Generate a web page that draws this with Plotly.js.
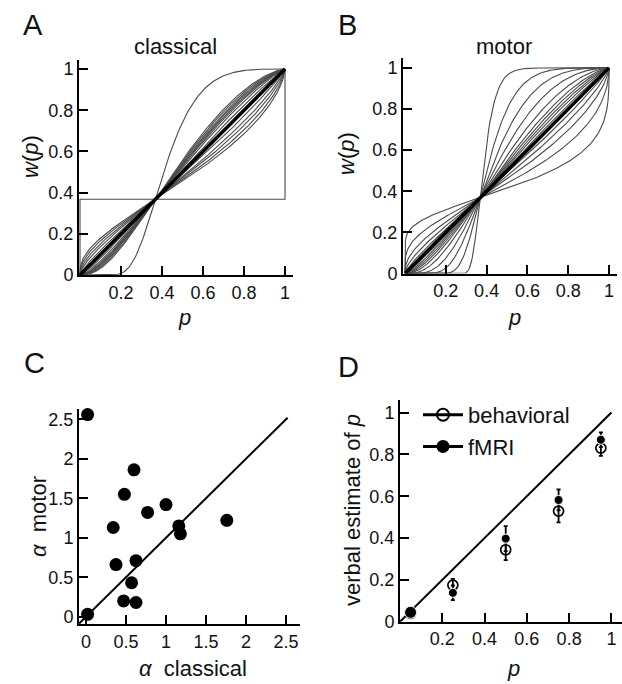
<!DOCTYPE html>
<html>
<head>
<meta charset="utf-8">
<script src="https://cdn.plot.ly/plotly-3.0.1.min.js"></script>
<style>html,body{margin:0;padding:0;background:#fff;}#chart{width:622px;height:684px;}</style>
</head>
<body>
<div id="chart"></div>
<script>
// ---------- DATA ----------
// Panel A: Prelec weighting-curve parameters read from the "classical" curves
const curveAlphaClassical = [0, 0.65, 0.7, 0.76, 0.82, 0.9, 1.1, 1.18, 1.24, 1.28, 1.32, 1.36, 1.42, 1.48, 3.3];
const curveAlphaMotor = [0.33, 0.52, 0.68, 0.8, 0.9, 1.08, 1.15, 1.22, 1.3, 1.4, 1.6, 2.0, 2.7, 4.1, 9.0];
// Identity (thick black) line in A and B
const identityP = [0, 1];

// Panel C: alpha classical vs alpha motor (one point per subject)
const alphaClassical = [0.02, 0.02, 0.60, 0.48, 0.34, 0.375, 0.625, 0.57, 0.47, 0.625, 0.77, 1.00, 1.16, 1.18, 1.76];
const alphaMotor     = [2.56, 0.03, 1.86, 1.55, 1.13, 0.66, 0.71, 0.43, 0.20, 0.18, 1.32, 1.42, 1.15, 1.05, 1.22];
const diagC = [-0.085, 2.52];

// Panel D: verbal estimate of p
const pTrue = [0.05, 0.25, 0.5, 0.75, 0.95];
const behavioralMean = [0.040, 0.175, 0.344, 0.529, 0.830];
const behavioralErr  = [0.010, 0.030, 0.050, 0.054, 0.037];
const fmriMean = [0.045, 0.138, 0.397, 0.582, 0.870];
const fmriErr  = [0.010, 0.035, 0.060, 0.050, 0.035];
const diagD = [0, 1];

// Tick labels
const tickP = [0.2, 0.4, 0.6, 0.8, 1];
const tickPText = ['0.2', '0.4', '0.6', '0.8', '1'];
const tickW = [0, 0.2, 0.4, 0.6, 0.8, 1];
const tickWText = ['0', '0.2', '0.4', '0.6', '0.8', '1'];
const tickAlpha = [0, 0.5, 1, 1.5, 2, 2.5];
const tickAlphaText = ['0', '0.5', '1', '1.5', '2', '2.5'];

// ---------- HELPERS ----------
function pGrid() {
  const g = [0, 1e-9, 1e-7, 1e-5, 1e-4, 1e-3, 0.002, 0.004];
  for (let i = 1; i < 200; i++) g.push(i / 200);
  g.push(0.996, 0.998, 0.999, 1 - 1e-4, 1 - 1e-5, 1 - 1e-7, 1 - 1e-9, 1);
  return g;
}
function prelec(p, a) {
  if (p <= 0) return 0;
  if (p >= 1) return 1;
  return Math.exp(-Math.pow(-Math.log(p), a));
}
const P = pGrid();
const FONT = 'Liberation Sans, Arial, sans-serif';
const W = 622, H = 684;
const px = x => x / W;
const py = y => 1 - y / H;

const traces = [];
function curves(alphas, xa, ya) {
  alphas.forEach(a => {
    traces.push({x: P, y: P.map(p => prelec(p, a)), xaxis: xa, yaxis: ya, mode: 'lines',
      line: {color: '#4a4a4a', width: 1.1}, showlegend: false, hoverinfo: 'skip'});
  });
  traces.push({x: identityP, y: identityP, xaxis: xa, yaxis: ya, mode: 'lines',
    line: {color: '#000', width: 3.5}, showlegend: false});
}
curves(curveAlphaClassical, 'x', 'y');
curves(curveAlphaMotor, 'x2', 'y2');

// Panel C
traces.push({x: diagC, y: diagC, xaxis: 'x3', yaxis: 'y3', mode: 'lines',
  line: {color: '#000', width: 2}, showlegend: false});
traces.push({x: alphaClassical, y: alphaMotor, xaxis: 'x3', yaxis: 'y3', mode: 'markers',
  marker: {color: '#000', size: 13, opacity: 1}, showlegend: false, cliponaxis: false});

// Panel D
traces.push({x: diagD, y: diagD, xaxis: 'x4', yaxis: 'y4', mode: 'lines',
  line: {color: '#000', width: 2}, showlegend: false});
traces.push({x: pTrue, y: behavioralMean, xaxis: 'x4', yaxis: 'y4', mode: 'markers',
  error_y: {type: 'data', array: behavioralErr, visible: true, color: '#000', thickness: 1.8, width: 2},
  marker: {symbol: 'circle-open', color: '#000', size: 10, opacity: 1, line: {width: 1.7, color: '#000'}},
  showlegend: false});
traces.push({x: pTrue, y: fmriMean, xaxis: 'x4', yaxis: 'y4', mode: 'markers',
  error_y: {type: 'data', array: fmriErr, visible: true, color: '#000', thickness: 1.8, width: 2},
  marker: {symbol: 'circle', color: '#000', size: [12, 9, 9, 9, 9], opacity: 1},
  showlegend: false});
// legend entries
traces.push({x: [null], y: [null], xaxis: 'x4', yaxis: 'y4', mode: 'lines+markers', name: 'behavioral',
  line: {color: '#000', width: 3}, marker: {symbol: 'circle-open', color: '#000', size: 12, line: {color: '#000', width: 2}}});
traces.push({x: [null], y: [null], xaxis: 'x4', yaxis: 'y4', mode: 'lines+markers', name: 'fMRI',
  line: {color: '#000', width: 3}, marker: {symbol: 'circle', color: '#000', size: 13}});

function axis(extra) {
  return Object.assign({
    showline: true, linecolor: '#000', linewidth: 2, ticks: 'inside', ticklen: 9, tickwidth: 2,
    tickcolor: '#000', showgrid: false, zeroline: false, tickmode: 'array',
    tickfont: {family: FONT, size: 18, color: '#111'}, fixedrange: true
  }, extra);
}

const layout = {
  width: W, height: H, margin: {l: 0, r: 0, t: 0, b: 0},
  paper_bgcolor: '#fff', plot_bgcolor: 'rgba(0,0,0,0)',
  font: {family: FONT, color: '#111'},
  xaxis:  axis({domain: [px(79), px(293)], range: [-0.005, 1.039], tickvals: tickP, ticktext: tickPText, anchor: 'y'}),
  yaxis:  axis({domain: [py(275), py(60)], range: [0, 1.044], tickvals: tickW, ticktext: tickWText, anchor: 'x'}),
  xaxis2: axis({domain: [px(403), px(617)], range: [-0.01, 1.039], tickvals: tickP, ticktext: tickPText, anchor: 'y2'}),
  yaxis2: axis({domain: [py(273.5), py(58)], range: [0, 1.048], tickvals: tickW, ticktext: tickWText, anchor: 'x2'}),
  xaxis3: axis({domain: [px(79), px(300)], range: [-0.0875, 2.675], tickvals: tickAlpha, ticktext: tickAlphaText, anchor: 'y3'}),
  yaxis3: axis({domain: [py(624), py(409)], range: [-0.092, 2.63], tickvals: tickAlpha, ticktext: tickAlphaText, anchor: 'x3'}),
  xaxis4: axis({domain: [px(400), px(622)], range: [0, 1.05], tickvals: tickP, ticktext: tickPText, anchor: 'y4'}),
  yaxis4: axis({domain: [py(621.7), py(400)], range: [0, 1.06], tickvals: tickW, ticktext: tickWText, anchor: 'x4'}),
  legend: {x: px(418), y: py(394), xanchor: 'left', yanchor: 'top', bgcolor: 'rgba(0,0,0,0)',
    font: {family: FONT, size: 22, color: '#111'}, itemwidth: 40, tracegroupgap: 0},
  showlegend: true,
  annotations: []
};

function ann(text, x, y, size, angle) {
  layout.annotations.push({text: text, x: px(x), y: py(y), xref: 'paper', yref: 'paper',
    xanchor: 'center', yanchor: 'middle', showarrow: false, textangle: angle || 0,
    font: {family: FONT, size: size, color: '#111'}});
}
ann('A', 33, 25, 29);
ann('B', 347, 25, 29);
ann('C', 34, 363, 29);
ann('D', 348, 367, 29);
ann('classical', 175, 46, 22);
ann('motor', 504, 46, 22);
ann('<i>p</i>', 184, 317, 22);
ann('<i>p</i>', 514, 317, 22);
ann('<i>w</i>(<i>p</i>)', 31, 157, 22, -90);
ann('<i>w</i>(<i>p</i>)', 347, 154, 22, -90);
ann('<i>α</i>  motor', 38, 517, 22, -90);
ann('<i>α</i>  classical', 193, 668, 22);
ann('verbal estimate of <i>p</i>', 352, 510, 22, -90);
ann('<i>p</i>', 513, 668, 22);

Plotly.newPlot('chart', traces, layout, {staticPlot: true, displayModeBar: false});
</script>
</body>
</html>
